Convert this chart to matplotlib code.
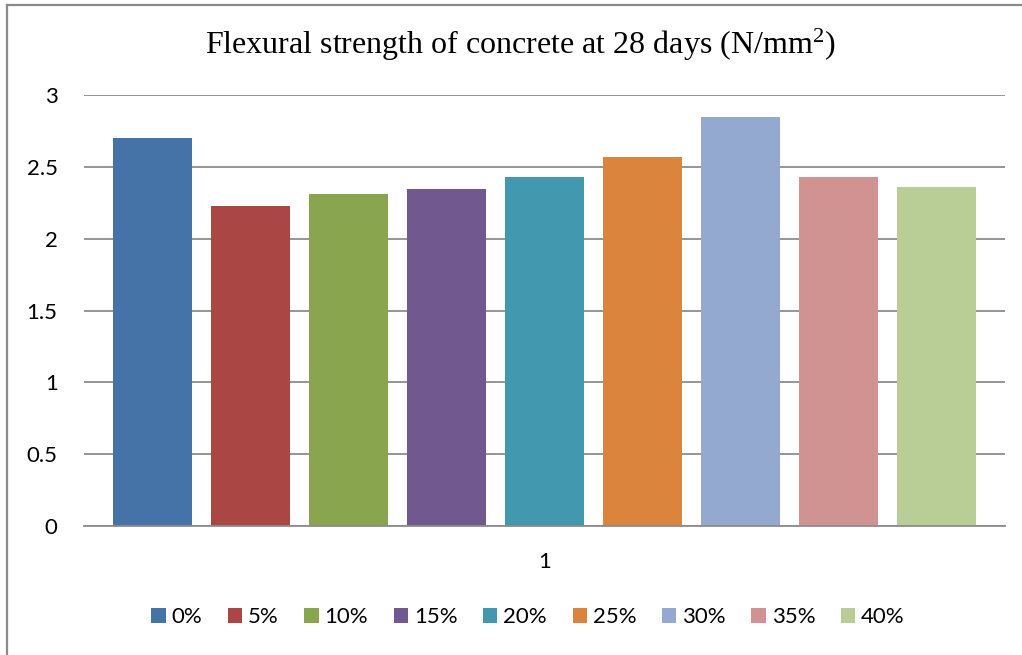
import matplotlib
matplotlib.use("Agg")
import matplotlib.pyplot as plt
from matplotlib.patches import Patch
from matplotlib.lines import Line2D

# Replacement levels and their 28-day flexural strength (N/mm²)
levels = ["0%", "5%", "10%", "15%", "20%", "25%", "30%", "35%", "40%"]
strength = [2.70, 2.23, 2.31, 2.35, 2.43, 2.57, 2.85, 2.43, 2.36]
colors = ["#4572A7", "#AA4643", "#89A54E", "#71588F", "#4198AF",
          "#DB843D", "#93A9CF", "#D19392", "#B9CD96"]
yticks = [0, 0.5, 1, 1.5, 2, 2.5, 3]
category_label = "1"
title = r"Flexural strength of concrete at 28 days (N/mm$^{2}$)"

plt.rcParams["mathtext.fontset"] = "custom"
plt.rcParams["mathtext.rm"] = "Liberation Serif"
plt.rcParams["mathtext.it"] = "Liberation Serif:italic"
plt.rcParams["mathtext.bf"] = "Liberation Serif:bold"

W, H = 1022, 655
fig = plt.figure(figsize=(W / 100, H / 100), dpi=100)
fig.patch.set_facecolor("white")

# chart frame (top and left edges)
fig.add_artist(Line2D([7 / W, 7 / W], [0, 1 - 5 / H], transform=fig.transFigure,
                      color="#8a8a8a", lw=1.6))
fig.add_artist(Line2D([7 / W, 1], [1 - 5 / H, 1 - 5 / H], transform=fig.transFigure,
                      color="#8a8a8a", lw=1.6))

left, right = 84 / W, 1005 / W
bottom, top = (H - 526) / H, (H - 95.3) / H
ax = fig.add_axes([left, bottom, right - left, top - bottom])

x = list(range(len(levels)))
bar_w = 79 / 98
ax.bar(x, strength, width=bar_w, color=colors, zorder=3)

ax.set_xlim(-0.5 * bar_w - 29 / 98, len(levels) - 1 + 0.5 * bar_w + 29 / 98)
ax.set_ylim(0, 3)
ax.set_yticks(yticks)
ax.set_yticklabels([f"{t:g}" for t in yticks], fontfamily="Lato", fontsize=16)
ax.yaxis.grid(True, color="#8c8c8c", lw=1.3, zorder=0)
ax.tick_params(axis="y", length=0, pad=19)
ax.set_xticks([(len(levels) - 1) / 2])
ax.set_xticklabels([category_label], fontfamily="Lato", fontsize=16)
ax.tick_params(axis="x", length=0, pad=19)
for s in ["left", "right", "top"]:
    ax.spines[s].set_visible(False)
ax.spines["bottom"].set_color("#8c8c8c")
ax.spines["bottom"].set_linewidth(1.3)
ax.spines["bottom"].set_zorder(4)

fig.text(520 / W, 1 - 45 / H, title, ha="center", va="center",
         fontfamily="Liberation Serif", fontsize=23)

handles = [Patch(facecolor=c, edgecolor="none", label=l) for c, l in zip(colors, levels)]
fig.legend(handles=handles, loc="center", bbox_to_anchor=(528 / W, 1 - 617 / H),
           ncol=len(levels), frameon=False, prop={"family": "Lato", "size": 16},
           handlelength=0.64, handleheight=0.64, handletextpad=0.27,
           columnspacing=1.15, borderpad=0)

fig.savefig("out.png", dpi=100, facecolor="white")
